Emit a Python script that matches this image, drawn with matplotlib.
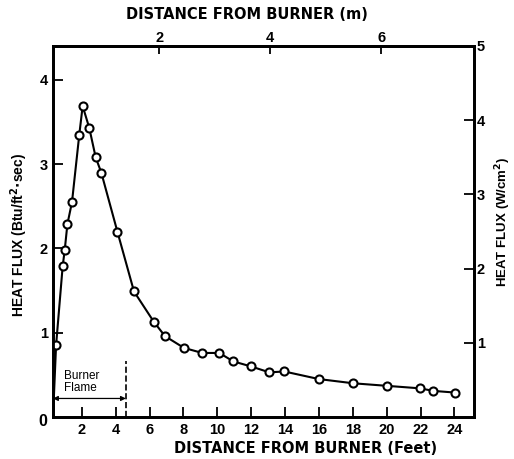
import numpy as np
import matplotlib
matplotlib.use('Agg')
import matplotlib.pyplot as plt

# measured heat flux vs distance from burner
dist_ft = [0.48, 0.87, 0.99, 1.15, 1.42, 1.85, 2.05, 2.44, 2.82, 3.15, 4.10,
           5.08, 6.25, 6.91, 8.03, 9.11, 10.12, 10.94, 11.99, 13.07, 13.96,
           16.0, 18.03, 20.0, 21.97, 22.75, 24.03]
flux = [0.85, 1.79, 1.98, 2.29, 2.55, 3.35, 3.69, 3.43, 3.08, 2.90, 2.20,
        1.49, 1.13, 0.96, 0.82, 0.76, 0.76, 0.66, 0.60, 0.53, 0.54,
        0.45, 0.40, 0.37, 0.34, 0.31, 0.29]
# curve starts at the burner
curve_x = [0.3] + dist_ft
curve_y = [0.0] + flux

xticks_ft = [2, 4, 6, 8, 10, 12, 14, 16, 18, 20, 22, 24]
xticks_m = [2, 4, 6]
yticks_btu = [1, 2, 3, 4]
yticks_w = [1, 2, 3, 4, 5]
flame_edge = 4.6

FT_PER_M = 3.2808
W_PER_BTU = 1.1357

plt.rcParams['font.family'] = 'Liberation Sans'
plt.rcParams['font.weight'] = 'bold'

fig = plt.figure(figsize=(5.14, 4.59), dpi=100)
ax = fig.add_axes([0.1025, 0.0915, 0.8195, 0.8083])

ax.plot(curve_x, curve_y, color='black', lw=1.5, zorder=2)
ax.plot(dist_ft, flux, 'o', ms=5.8, mfc='white', mec='black', mew=1.5, zorder=3)

# burner flame region
ax.plot([flame_edge, flame_edge], [0, 0.66], ls='--', color='black', lw=1.2)
ax.annotate('', xy=(flame_edge, 0.22), xytext=(0.3, 0.22),
            arrowprops=dict(arrowstyle='<|-|>', color='black', lw=0.9,
                            mutation_scale=7, shrinkA=0, shrinkB=0))
ax.text(0.95, 0.41, 'Burner\nFlame', fontsize=8.5, fontweight='normal',
        va='center', ha='left', linespacing=1.0)

ax.set_xlim(0.28, 25.15)
ax.set_ylim(0, 5 / W_PER_BTU)
ax.set_xticks(xticks_ft)
ax.set_yticks(yticks_btu)
ax.tick_params(direction='in', length=7, width=1.3, labelsize=10.5)
ax.tick_params(axis='x', pad=4)
ax.set_xlabel('DISTANCE FROM BURNER (Feet)', fontsize=10.5, fontweight='bold',
              family='DejaVu Sans', labelpad=3, x=0.6)
ax.set_ylabel('HEAT FLUX (Btu/ft$^2$$\\cdot$sec)', fontsize=10,
              fontweight='bold', labelpad=7, y=0.49)
ax.text(-0.024, -0.013, '0', transform=ax.transAxes, fontsize=11.5,
        ha='center', va='center')

for s in ax.spines.values():
    s.set_linewidth(2)

# top axis in metres
top = ax.secondary_xaxis('top', functions=(lambda x: x / FT_PER_M,
                                           lambda m: m * FT_PER_M))
top.set_xticks(xticks_m)
top.tick_params(direction='in', length=6, width=1.3, labelsize=10.5, pad=1)
top.set_xlabel('DISTANCE FROM BURNER (m)', fontsize=10.5, fontweight='bold',
               family='DejaVu Sans', labelpad=8, x=0.461)
top.spines['top'].set_linewidth(2)

# right axis in W/cm2
right = ax.twinx()
right.set_ylim(0, 5)
right.set_yticks(yticks_w)
right.tick_params(direction='in', length=7, width=1.3, labelsize=10.5, pad=2)
right.set_ylabel('HEAT FLUX (W/cm$^2$)', fontsize=9.5, fontweight='bold',
                 labelpad=6, y=0.525)
for s in right.spines.values():
    s.set_linewidth(2)

fig.savefig('out.png', dpi=100)
